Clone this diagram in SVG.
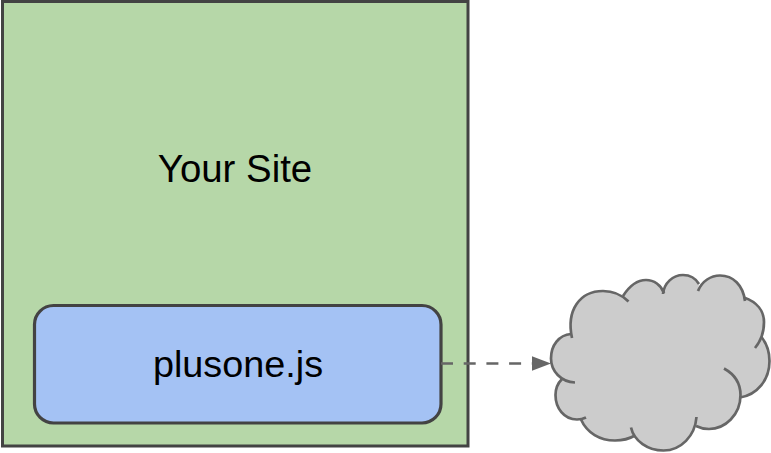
<svg xmlns="http://www.w3.org/2000/svg" width="771" height="453" viewBox="0 0 771 453">
<style>
text{font-family:"Liberation Sans",Arial,sans-serif;fill:#000;text-anchor:middle}
.arc{fill:none;stroke:#666;stroke-width:2.700}
</style>
<defs>
<marker id="tri" markerUnits="userSpaceOnUse" markerWidth="20" markerHeight="16" refX="19.5" refY="7.5" orient="auto"><path d="M0 0L19.5 7.500L0 15Z" fill="#666"/></marker>
</defs>
<rect width="771" height="453" fill="#fff"/>
<g id="your-site">
<rect x="2.500" y="1.500" width="465.500" height="444.500" fill="#b6d7a8" stroke="#434343" stroke-width="3"/>
<text x="235" y="181.500" font-size="38.400">Your Site</text>
</g>
<g id="plusone">
<rect x="34.500" y="305.500" width="406.500" height="117.500" rx="19" fill="#a4c2f4" stroke="#434343" stroke-width="3.200"/>
<text x="238" y="376.500" font-size="37.800">plusone.js</text>
</g>
<g id="cloud">
<path fill="#ccc" d="M572 338C566 310 580 291 603 291C613 291 622 295 628.500 301.500Z
M623 296C630 285 638 280 646 280C654 280 661 285 664 293Z
M663 294C664 283 673 275 683 275C690 275 696 279 699 284Z
M698 291C702 281 711 275.500 720 275.500C733 275.500 743 285 745 301Z
M744 297.500C757 302 764 311 764 322C764 333 760 342 755 348Z
M761.500 337C767 344 769.500 352 769.500 361C769.500 380 757 395 740 397.500Z
M724 368.500C734 374 740.500 383 740.500 395C740.500 415 725 429 709 429C704 429 700 428 696 426Z
M696.500 417C695 436 681 450.500 663.500 450.500C648 450.500 634 441 631 427.500Z
M635 435.500C629 439 622 440.500 615 440.500C600 440.500 587 433 581 419.500Z
M586 417.500C583 419 580 419.500 577 419.500C564 419.500 555.500 408 555.500 395C555.500 388 558 383 562 379Z
M575 382.500C561 382 551 371 551 358.500C551 345 559 335 571 334Z
M572 338L628.500 301.500L623 296L664 293L663 294L699 284L698 291L745 301L744 297.500L755 348L761.500 337L740 397.500L696 426L696.500 417L631 427.500L635 435.500L581 419.500L586 417.500L562 379L575 382.500L571 334Z"/>
<path class="arc" d="M572 338C566 310 580 291 603 291C613 291 622 295 628.500 301.500"/>
<path class="arc" d="M623 296C630 285 638 280 646 280C654 280 661 285 664 293"/>
<path class="arc" d="M663 294C664 283 673 275 683 275C690 275 696 279 699 284"/>
<path class="arc" d="M698 291C702 281 711 275.500 720 275.500C733 275.500 743 285 745 301"/>
<path class="arc" d="M744 297.500C757 302 764 311 764 322C764 333 760 342 755 348"/>
<path class="arc" d="M761.500 337C767 344 769.500 352 769.500 361C769.500 380 757 395 740 397.500"/>
<path class="arc" d="M724 368.500C734 374 740.500 383 740.500 395C740.500 415 725 429 709 429C704 429 700 428 696 426"/>
<path class="arc" d="M696.500 417C695 436 681 450.500 663.500 450.500C648 450.500 634 441 631 427.500"/>
<path class="arc" d="M635 435.500C629 439 622 440.500 615 440.500C600 440.500 587 433 581 419.500"/>
<path class="arc" d="M586 417.500C583 419 580 419.500 577 419.500C564 419.500 555.500 408 555.500 395C555.500 388 558 383 562 379"/>
<path class="arc" d="M575 382.500C561 382 551 371 551 358.500C551 345 559 335 571 334"/>
</g>
<g id="connectors">
<path d="M441 363.500H551" fill="none" stroke="#666" stroke-width="2.700" stroke-dasharray="12 10.700" marker-end="url(#tri)"/>
</g>
</svg>
